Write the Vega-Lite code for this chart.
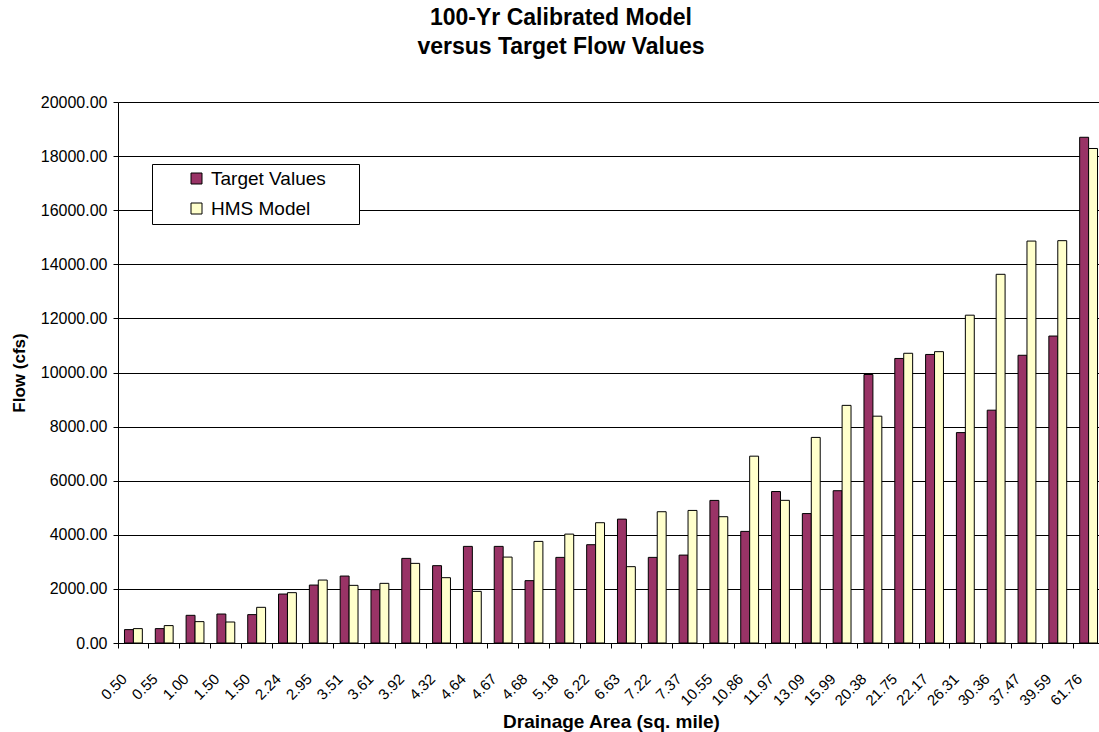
{
  "$schema": "https://vega.github.io/schema/vega-lite/v6.json",
  "width": 986,
  "height": 541,
  "autosize": {"type": "none"},
  "padding": {"left": 118, "top": 102, "right": 0, "bottom": 89},
  "background": "white",
  "config": {"font": "Liberation Sans", "view": {"stroke": null}},
  "title": {
    "text": ["100-Yr Calibrated Model", "versus Target Flow Values"],
    "fontSize": 23,
    "fontWeight": "bold",
    "font": "Liberation Sans",
    "lineHeight": 29,
    "anchor": "middle",
    "dx": -50,
    "offset": 35,
    "color": "black"
  },
  "data": {
    "values": [
      {"area": "0.50", "series": "Target Values", "flow": 495},
      {"area": "0.50", "series": "HMS Model", "flow": 532},
      {"area": "0.55", "series": "Target Values", "flow": 532},
      {"area": "0.55", "series": "HMS Model", "flow": 643},
      {"area": "1.00", "series": "Target Values", "flow": 1023},
      {"area": "1.00", "series": "HMS Model", "flow": 790},
      {"area": "1.50", "series": "Target Values", "flow": 1071},
      {"area": "1.50", "series": "HMS Model", "flow": 776},
      {"area": "1.50 ", "series": "Target Values", "flow": 1049},
      {"area": "1.50 ", "series": "HMS Model", "flow": 1319},
      {"area": "2.24", "series": "Target Values", "flow": 1810},
      {"area": "2.24", "series": "HMS Model", "flow": 1861},
      {"area": "2.95", "series": "Target Values", "flow": 2142},
      {"area": "2.95", "series": "HMS Model", "flow": 2327},
      {"area": "3.51", "series": "Target Values", "flow": 2475},
      {"area": "3.51", "series": "HMS Model", "flow": 2131},
      {"area": "3.61", "series": "Target Values", "flow": 1972},
      {"area": "3.61", "series": "HMS Model", "flow": 2205},
      {"area": "3.92", "series": "Target Values", "flow": 3128},
      {"area": "3.92", "series": "HMS Model", "flow": 2944},
      {"area": "4.32", "series": "Target Values", "flow": 2859},
      {"area": "4.32", "series": "HMS Model", "flow": 2415},
      {"area": "4.64", "series": "Target Values", "flow": 3572},
      {"area": "4.64", "series": "HMS Model", "flow": 1909},
      {"area": "4.67", "series": "Target Values", "flow": 3572},
      {"area": "4.67", "series": "HMS Model", "flow": 3176},
      {"area": "4.68", "series": "Target Values", "flow": 2305},
      {"area": "4.68", "series": "HMS Model", "flow": 3756},
      {"area": "5.18", "series": "Target Values", "flow": 3165},
      {"area": "5.18", "series": "HMS Model", "flow": 4026},
      {"area": "6.22", "series": "Target Values", "flow": 3634},
      {"area": "6.22", "series": "HMS Model", "flow": 4447},
      {"area": "6.63", "series": "Target Values", "flow": 4580},
      {"area": "6.63", "series": "HMS Model", "flow": 2822},
      {"area": "7.22", "series": "Target Values", "flow": 3165},
      {"area": "7.22", "series": "HMS Model", "flow": 4853},
      {"area": "7.37", "series": "Target Values", "flow": 3250},
      {"area": "7.37", "series": "HMS Model", "flow": 4901},
      {"area": "10.55", "series": "Target Values", "flow": 5271},
      {"area": "10.55", "series": "HMS Model", "flow": 4669},
      {"area": "10.86", "series": "Target Values", "flow": 4126},
      {"area": "10.86", "series": "HMS Model", "flow": 6907},
      {"area": "11.97", "series": "Target Values", "flow": 5600},
      {"area": "11.97", "series": "HMS Model", "flow": 5274},
      {"area": "13.09", "series": "Target Values", "flow": 4785},
      {"area": "13.09", "series": "HMS Model", "flow": 7600},
      {"area": "15.99", "series": "Target Values", "flow": 5630},
      {"area": "15.99", "series": "HMS Model", "flow": 8785},
      {"area": "20.38", "series": "Target Values", "flow": 9926},
      {"area": "20.38", "series": "HMS Model", "flow": 8385},
      {"area": "21.75", "series": "Target Values", "flow": 10519},
      {"area": "21.75", "series": "HMS Model", "flow": 10711},
      {"area": "22.17", "series": "Target Values", "flow": 10667},
      {"area": "22.17", "series": "HMS Model", "flow": 10770},
      {"area": "26.31", "series": "Target Values", "flow": 7778},
      {"area": "26.31", "series": "HMS Model", "flow": 12119},
      {"area": "30.36", "series": "Target Values", "flow": 8607},
      {"area": "30.36", "series": "HMS Model", "flow": 13630},
      {"area": "37.47", "series": "Target Values", "flow": 10637},
      {"area": "37.47", "series": "HMS Model", "flow": 14859},
      {"area": "39.59", "series": "Target Values", "flow": 11348},
      {"area": "39.59", "series": "HMS Model", "flow": 14874},
      {"area": "61.76", "series": "Target Values", "flow": 18696},
      {"area": "61.76", "series": "HMS Model", "flow": 18281}
    ]
  },
  "mark": {"type": "bar", "stroke": "black", "strokeWidth": 1},
  "encoding": {
    "x": {
      "field": "area",
      "type": "nominal",
      "sort": null,
      "scale": {"paddingInner": 0.42, "paddingOuter": 0.21},
      "axis": {
        "title": "Drainage Area (sq. mile)",
        "titleFontSize": 19,
        "titleFontWeight": "bold",
        "titleColor": "black",
        "titleY": 84,
        "titleBaseline": "alphabetic",
        "labelExpr": "trim(datum.label)",
        "labelAngle": -45,
        "labelAlign": "right",
        "labelBaseline": "middle",
        "labelFontSize": 15,
        "labelColor": "black",
        "labelPadding": 28,
        "labelOffset": -9,
        "bandPosition": -0.36,
        "domainColor": "black",
        "tickColor": "black",
        "tickSize": 5,
        "grid": false
      }
    },
    "xOffset": {
      "field": "series",
      "sort": ["Target Values", "HMS Model"],
      "scale": {"paddingInner": 0, "paddingOuter": 0}
    },
    "y": {
      "field": "flow",
      "type": "quantitative",
      "scale": {"domain": [0, 20000], "nice": false},
      "axis": {
        "title": "Flow (cfs)",
        "titleFontSize": 17,
        "titleFontWeight": "bold",
        "titleColor": "black",
        "titlePadding": 12,
        "values": [0, 2000, 4000, 6000, 8000, 10000, 12000, 14000, 16000, 18000, 20000],
        "format": ".2f",
        "labelFontSize": 16,
        "labelColor": "black",
        "labelPadding": 6,
        "domainColor": "black",
        "tickColor": "black",
        "tickSize": 5,
        "grid": true,
        "gridColor": "black",
        "gridWidth": 1
      }
    },
    "color": {
      "field": "series",
      "type": "nominal",
      "scale": {"domain": ["Target Values", "HMS Model"], "range": ["#993366", "#FFFFCC"]},
      "legend": {
        "title": null,
        "orient": "none",
        "legendX": 34,
        "legendY": 62,
        "fillColor": "white",
        "strokeColor": "black",
        "padding": 5,
        "symbolType": "square",
        "symbolSize": 121,
        "symbolStrokeColor": "black",
        "symbolStrokeWidth": 1,
        "symbolOffset": 30,
        "labelFontSize": 19,
        "labelColor": "black",
        "labelOffset": 5,
        "rowPadding": 10,
        "labelLimit": 300,
        "labelExpr": "datum.label + '\u2800\u2800'"
      }
    }
  }
}
